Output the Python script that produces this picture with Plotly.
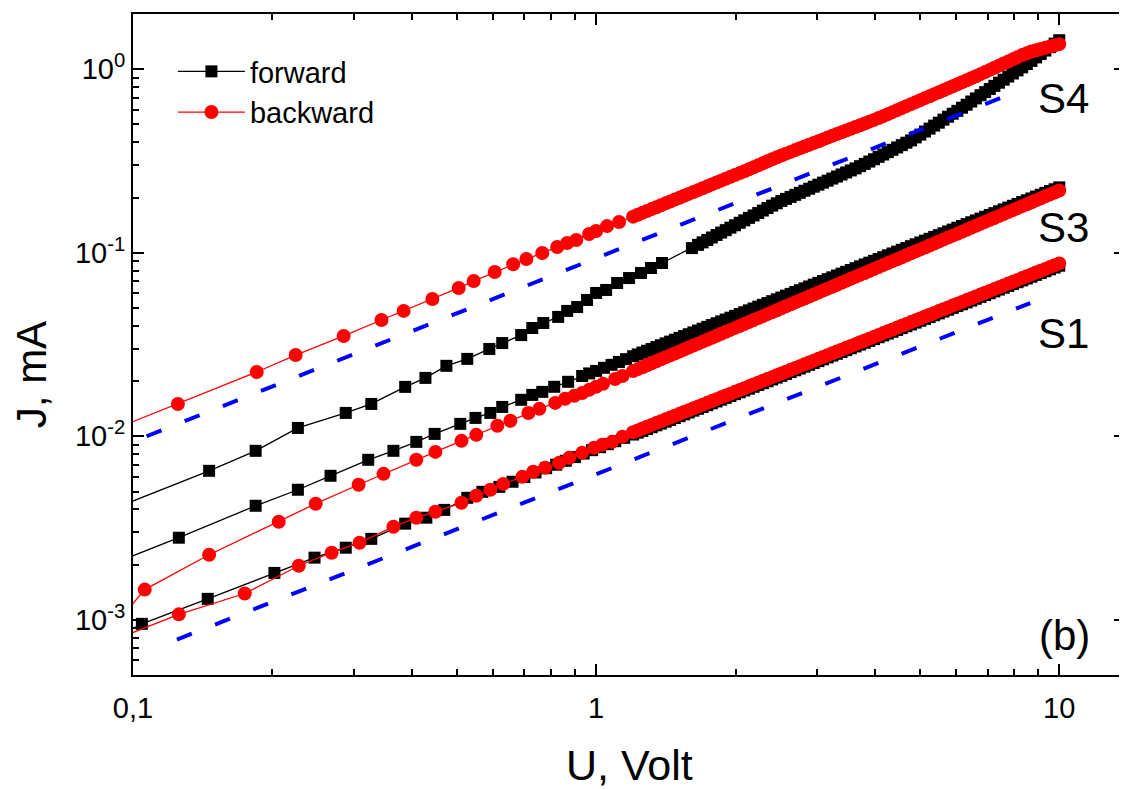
import plotly.graph_objects as go

# ---------------- data ----------------
# shared voltage grid of the dense high-voltage part (V)
U_DENSE = [1.202, 1.230, 1.259, 1.288, 1.318, 1.349, 1.380, 1.413, 1.445, 1.479,
           1.514, 1.549, 1.585, 1.622, 1.660, 1.698, 1.738, 1.778, 1.820, 1.862,
           1.905, 1.950, 1.995, 2.042, 2.089, 2.138, 2.188, 2.239, 2.291, 2.344,
           2.399, 2.455, 2.512, 2.570, 2.630, 2.692, 2.754, 2.818, 2.884, 2.951,
           3.020, 3.090, 3.162, 3.236, 3.311, 3.388, 3.467, 3.548, 3.631, 3.715,
           3.802, 3.890, 3.981, 4.074, 4.169, 4.266, 4.365, 4.467, 4.571, 4.677,
           4.786, 4.898, 5.012, 5.129, 5.248, 5.370, 5.495, 5.623, 5.754, 5.888,
           6.026, 6.166, 6.310, 6.457, 6.607, 6.761, 6.918, 7.079, 7.244, 7.413,
           7.586, 7.762, 7.943, 8.128, 8.318, 8.511, 8.710, 8.913, 9.120, 9.333,
           9.550, 9.772, 10.0]

# S4 forward
S4F_U_LOW = [0.08, 0.146, 0.184, 0.227, 0.288, 0.327, 0.387, 0.428, 0.475, 0.527,
             0.588, 0.627, 0.689, 0.728, 0.769, 0.828, 0.866, 0.910, 0.956, 1.0,
             1.051, 1.11, 1.178, 1.25, 1.314, 1.388, 1.61]
S4F_J_LOW = [3.55e-3, 6.48e-3, 8.33e-3, 0.0111, 0.0134, 0.0150, 0.01858, 0.0208, 0.0242, 0.0264,
             0.0299, 0.0322, 0.0356, 0.0389, 0.0414, 0.0447, 0.0482, 0.0506, 0.0553, 0.0604,
             0.0627, 0.0684, 0.0728, 0.0776, 0.0826, 0.0879, 0.106]
S4F_HIGH_START = 14   # the dense part of S4 forward starts at U_DENSE[14] (1.66 V)
S4F_J_HIGH = [0.1104, 0.1139, 0.1174, 0.1211, 0.1249, 0.1288, 0.1328, 0.1370, 0.1412, 0.1457,
              0.1502, 0.1549, 0.1597, 0.1647, 0.1698, 0.1752, 0.1806, 0.1860, 0.1915, 0.1965,
              0.2015, 0.2068, 0.2121, 0.2177, 0.2233, 0.2291, 0.2349, 0.2410, 0.2472, 0.2537,
              0.2602, 0.2670, 0.2738, 0.2809, 0.2881, 0.2964, 0.3048, 0.3140, 0.3233, 0.3331,
              0.3430, 0.3534, 0.3638, 0.3749, 0.3860, 0.3977, 0.4095, 0.4250, 0.4405, 0.4576,
              0.4748, 0.4930, 0.5113, 0.5312, 0.5511, 0.5723, 0.5935, 0.6171, 0.6408, 0.6671,
              0.6934, 0.7218, 0.7502, 0.7809, 0.8116, 0.8444, 0.8773, 0.9126, 0.9480, 0.9860,
              1.024, 1.067, 1.110, 1.160, 1.210, 1.264, 1.319, 1.379, 1.439]

# S4 backward
S4B_U_LOW = [0.085, 0.125, 0.185, 0.2245, 0.285, 0.344, 0.384, 0.443, 0.505, 0.544,
             0.604, 0.662, 0.707, 0.765, 0.824, 0.866, 0.906, 0.966, 1.0, 1.056, 1.121]
S4B_J_LOW = [0.0102, 0.0150, 0.0224, 0.0277, 0.0352, 0.0430, 0.0482, 0.0560, 0.0643, 0.0701,
             0.0785, 0.0866, 0.0924, 0.0996, 0.1074, 0.113, 0.1173, 0.1264, 0.1313, 0.1397, 0.147]
S4B_J_HIGH = [0.1573, 0.1611, 0.1650, 0.1689, 0.1729, 0.1771, 0.1814, 0.1858, 0.1902, 0.1948,
              0.1995, 0.2043, 0.2092, 0.2143, 0.2194, 0.2247, 0.2301, 0.2357, 0.2413, 0.2471,
              0.2530, 0.2591, 0.2653, 0.2717, 0.2782, 0.2852, 0.2923, 0.2998, 0.3073, 0.3151,
              0.3230, 0.3310, 0.3391, 0.3468, 0.3545, 0.3626, 0.3707, 0.3792, 0.3877, 0.3965,
              0.4054, 0.4147, 0.4240, 0.4336, 0.4433, 0.4533, 0.4634, 0.4739, 0.4845, 0.4955,
              0.5066, 0.5181, 0.5297, 0.5424, 0.5551, 0.5693, 0.5836, 0.5986, 0.6136, 0.6293,
              0.6451, 0.6617, 0.6783, 0.6957, 0.7131, 0.7314, 0.7497, 0.7689, 0.7882, 0.8084,
              0.8286, 0.8498, 0.8710, 0.8933, 0.9157, 0.9403, 0.9649, 0.9914, 1.018, 1.046,
              1.074, 1.103, 1.133, 1.164, 1.195, 1.222, 1.250, 1.269, 1.289, 1.309,
              1.329, 1.349, 1.370]

# S3 forward
S3F_U_LOW = [0.085, 0.1256, 0.184, 0.227, 0.267, 0.322, 0.365, 0.409, 0.448, 0.509,
             0.549, 0.591, 0.627, 0.689, 0.728, 0.765, 0.812, 0.87, 0.933, 0.966,
             1.0, 1.04, 1.08, 1.12, 1.16]
S3F_J_LOW = [1.9e-3, 2.80e-3, 4.18e-3, 5.11e-3, 6.09e-3, 7.44e-3, 8.33e-3, 9.32e-3, 0.0103, 0.01168,
             0.01259, 0.0134, 0.01445, 0.0158, 0.0168, 0.01745, 0.0186, 0.0198, 0.0213, 0.0220,
             0.0227, 0.0236, 0.0245, 0.0254, 0.0263]
S3F_J_HIGH = [0.02729, 0.02792, 0.02858, 0.02924, 0.02992, 0.03062, 0.03133, 0.03208, 0.0328, 0.03357,
              0.03437, 0.03516, 0.03598, 0.03682, 0.03768, 0.03854, 0.03945, 0.04036, 0.04131, 0.04227,
              0.04324, 0.04427, 0.04529, 0.04635, 0.04742, 0.04853, 0.04967, 0.05083, 0.05201, 0.05321,
              0.05446, 0.05573, 0.05702, 0.05834, 0.0597, 0.06111, 0.06252, 0.06397, 0.06547, 0.06699,
              0.06855, 0.07014, 0.07178, 0.07346, 0.07516, 0.07691, 0.0787, 0.08054, 0.08242, 0.08433,
              0.08631, 0.0883, 0.09037, 0.09248, 0.09464, 0.09684, 0.09909, 0.1014, 0.1038, 0.1062,
              0.1086, 0.1112, 0.1138, 0.1164, 0.1191, 0.1219, 0.1247, 0.1276, 0.1306, 0.1337,
              0.1368, 0.14, 0.1432, 0.1466, 0.15, 0.1535, 0.157, 0.1607, 0.1644, 0.1683,
              0.1722, 0.1762, 0.1803, 0.1845, 0.1888, 0.1932, 0.1977, 0.2023, 0.207, 0.2119,
              0.2168, 0.2218, 0.227]

# S3 backward
S3B_U_LOW = [0.066, 0.106, 0.146, 0.2064, 0.248, 0.307, 0.3475, 0.409, 0.4497, 0.512,
             0.551, 0.612, 0.653, 0.714, 0.754, 0.816, 0.857, 0.897, 0.933, 0.966,
             1.0, 1.035, 1.099, 1.14]
S3B_J_LOW = [3.5e-4, 1.46e-3, 2.26e-3, 3.42e-3, 4.29e-3, 5.44e-3, 6.24e-3, 7.44e-3, 8.22e-3, 9.44e-3,
             0.01018, 0.0114, 0.01214, 0.0134, 0.0141, 0.0152, 0.0160, 0.0166, 0.0172, 0.0179,
             0.0186, 0.0193, 0.0205, 0.0213]
S3B_J_HIGH = [0.02265, 0.02321, 0.02379, 0.02438, 0.02499, 0.02561, 0.02626, 0.02691, 0.02758, 0.02827,
              0.02897, 0.02969, 0.03044, 0.0312, 0.03197, 0.03277, 0.03359, 0.03443, 0.03528, 0.03616,
              0.03706, 0.03799, 0.03894, 0.03991, 0.0409, 0.04192, 0.04297, 0.04404, 0.04514, 0.04627,
              0.04742, 0.0486, 0.04982, 0.05106, 0.05233, 0.05364, 0.05498, 0.05635, 0.05775, 0.05919,
              0.06067, 0.06218, 0.06373, 0.06532, 0.06695, 0.06862, 0.07033, 0.07208, 0.07389, 0.07573,
              0.07762, 0.07955, 0.08154, 0.08357, 0.08566, 0.0878, 0.08999, 0.09223, 0.09453, 0.09689,
              0.0993, 0.1018, 0.1043, 0.1069, 0.1096, 0.1123, 0.1151, 0.118, 0.1209, 0.1239,
              0.127, 0.1302, 0.1335, 0.1368, 0.1402, 0.1437, 0.1473, 0.151, 0.1547, 0.1586,
              0.1625, 0.1666, 0.1707, 0.175, 0.1794, 0.1838, 0.1884, 0.1931, 0.1979, 0.2029,
              0.2079, 0.2131, 0.2184]

# S1 forward
S1F_U_LOW = [0.065, 0.1045, 0.145, 0.202, 0.2466, 0.288, 0.327, 0.387, 0.43, 0.47,
             0.527, 0.568, 0.618, 0.66, 0.70, 0.74, 0.78, 0.82, 0.86, 0.90,
             0.94, 0.98, 1.02, 1.06, 1.10, 1.15]
S1F_J_LOW = [5.0e-4, 9.5e-4, 1.30e-3, 1.80e-3, 2.18e-3, 2.47e-3, 2.76e-3, 3.34e-3, 3.6e-3, 3.97e-3,
             4.62e-3, 4.98e-3, 5.3e-3, 5.65e-3, 6.0e-3, 6.35e-3, 6.7e-3, 7.0e-3, 7.35e-3, 7.7e-3,
             8.05e-3, 8.4e-3, 8.72e-3, 9.05e-3, 9.4e-3, 9.8e-3]
S1F_J_HIGH = [0.01022, 0.01046, 0.0107, 0.01095, 0.0112, 0.01147, 0.01173, 0.01201, 0.01228, 0.01257,
              0.01287, 0.01317, 0.01347, 0.01379, 0.01411, 0.01443, 0.01477, 0.01511, 0.01547, 0.01583,
              0.01619, 0.01658, 0.01696, 0.01736, 0.01776, 0.01817, 0.0186, 0.01903, 0.01947, 0.01992,
              0.02039, 0.02087, 0.02135, 0.02185, 0.02236, 0.02288, 0.02341, 0.02395, 0.02451, 0.02508,
              0.02567, 0.02627, 0.02688, 0.02751, 0.02814, 0.0288, 0.02947, 0.03016, 0.03086, 0.03158,
              0.03232, 0.03307, 0.03384, 0.03463, 0.03544, 0.03626, 0.0371, 0.03797, 0.03885, 0.03975,
              0.04068, 0.04163, 0.0426, 0.0436, 0.04461, 0.04565, 0.04671, 0.0478, 0.04891, 0.05005,
              0.05122, 0.05241, 0.05364, 0.05488, 0.05616, 0.05747, 0.0588, 0.06017, 0.06157, 0.06301,
              0.06448, 0.06598, 0.06752, 0.06909, 0.0707, 0.07234, 0.07404, 0.07576, 0.07752, 0.07933,
              0.08118, 0.08306, 0.085]

# S1 backward
S1B_U_LOW = [0.085, 0.1256, 0.1743, 0.228, 0.2685, 0.3084, 0.365, 0.409, 0.4497, 0.512,
             0.551, 0.591, 0.63, 0.693, 0.7315, 0.776, 0.832, 0.875, 0.933, 0.99,
             1.03, 1.083, 1.14]
S1B_J_LOW = [7.25e-4, 1.07e-3, 1.39e-3, 1.97e-3, 2.32e-3, 2.63e-3, 3.21e-3, 3.6e-3, 3.88e-3, 4.34e-3,
             4.74e-3, 5.11e-3, 5.5e-3, 6.01e-3, 6.4e-3, 6.73e-3, 7.17e-3, 7.63e-3, 8.12e-3, 8.65e-3,
             8.98e-3, 9.32e-3, 9.95e-3]
S1B_J_HIGH = [0.01052, 0.01076, 0.01102, 0.01127, 0.01153, 0.0118, 0.01208, 0.01236, 0.01264, 0.01294,
              0.01325, 0.01355, 0.01387, 0.01419, 0.01453, 0.01486, 0.01521, 0.01556, 0.01593, 0.01629,
              0.01667, 0.01706, 0.01746, 0.01787, 0.01828, 0.01871, 0.01915, 0.01959, 0.02005, 0.02051,
              0.02099, 0.02148, 0.02198, 0.02249, 0.02301, 0.02356, 0.0241, 0.02466, 0.02524, 0.02582,
              0.02643, 0.02704, 0.02767, 0.02832, 0.02897, 0.02965, 0.03034, 0.03105, 0.03177, 0.03251,
              0.03327, 0.03404, 0.03483, 0.03565, 0.03648, 0.03733, 0.03819, 0.03909, 0.04, 0.04092,
              0.04188, 0.04286, 0.04386, 0.04488, 0.04592, 0.04699, 0.04808, 0.0492, 0.05035, 0.05152,
              0.05273, 0.05395, 0.05521, 0.0565, 0.05781, 0.05916, 0.06053, 0.06194, 0.06339, 0.06486,
              0.06638, 0.06792, 0.0695, 0.07112, 0.07278, 0.07447, 0.07621, 0.07799, 0.0798, 0.08166,
              0.08356, 0.08551, 0.0875]

# ohmic guide lines (dashed)
FIT_S4_U = [0.107, 7.5]
FIT_S4_J = [0.0100, 0.70]
FIT_S1_U = [0.1244, 8.66]
FIT_S1_J = [7.8e-4, 0.0532]

# tick labels
X_TICKVALS = [0.1, 1, 10]
X_TICKTEXT = ["0,1", "1", "10"]
Y_TICKVALS = [0.001, 0.01, 0.1, 1]
Y_TICKTEXT = ["10<sup>-3</sup>", "10<sup>-2</sup>", "10<sup>-1</sup>", "10<sup>0</sup>"]

SAMPLE_LABELS = ["S4", "S3", "S1"]

# ---------------- figure ----------------
FONT = "Liberation Sans, Arial, Helvetica, sans-serif"
BLACK, RED, BLUE = "#000000", "#ff0000", "#0000ff"

fig = go.Figure()

forward = [
    (S4F_U_LOW + U_DENSE[S4F_HIGH_START:], S4F_J_LOW + S4F_J_HIGH),
    (S3F_U_LOW + U_DENSE, S3F_J_LOW + S3F_J_HIGH),
    (S1F_U_LOW + U_DENSE, S1F_J_LOW + S1F_J_HIGH),
]
backward = [
    (S4B_U_LOW + U_DENSE, S4B_J_LOW + S4B_J_HIGH),
    (S3B_U_LOW + U_DENSE, S3B_J_LOW + S3B_J_HIGH),
    (S1B_U_LOW + U_DENSE, S1B_J_LOW + S1B_J_HIGH),
]

for i, (u, j) in enumerate(forward):
    fig.add_trace(go.Scatter(
        x=u, y=j, mode="lines+markers", name="forward",
        legendgroup="forward", showlegend=(i == 0),
        line=dict(color=BLACK, width=1.3),
        marker=dict(symbol="square", size=12, color=BLACK, line=dict(width=0)),
    ))

for i, (u, j) in enumerate(backward):
    fig.add_trace(go.Scatter(
        x=u, y=j, mode="lines+markers", name="backward",
        legendgroup="backward", showlegend=(i == 0),
        line=dict(color=RED, width=1.3),
        marker=dict(symbol="circle", size=14, color=RED, line=dict(width=0)),
    ))

for u, j in [(FIT_S4_U, FIT_S4_J), (FIT_S1_U, FIT_S1_J)]:
    fig.add_trace(go.Scatter(
        x=u, y=j, mode="lines", showlegend=False, hoverinfo="skip",
        line=dict(color=BLUE, width=4, dash="16px,25px"),
    ))

minor_x = [m * 10.0 ** e for e in (-1, 0) for m in range(2, 10)]
minor_y = [m * 10.0 ** e for e in (-4, -3, -2, -1, 0) for m in range(2, 10)]

axis_common = dict(
    type="log", showline=True, linewidth=2, linecolor=BLACK, mirror="allticks",
    ticks="inside", ticklen=11, tickwidth=2, tickcolor=BLACK,
    showgrid=False, zeroline=False,
    tickfont=dict(family=FONT, size=29, color=BLACK),
)

fig.update_xaxes(
    **axis_common,
    range=[-1, 1.142],
    tickmode="array", tickvals=X_TICKVALS, ticktext=X_TICKTEXT,
    ticklabelstandoff=6,
    minor=dict(tickmode="array", tickvals=minor_x, ticks="inside",
               ticklen=6, tickwidth=2, tickcolor=BLACK, showgrid=False),
)
fig.update_yaxes(
    **axis_common,
    range=[-3.301, 0.301],
    tickmode="array", tickvals=Y_TICKVALS, ticktext=Y_TICKTEXT,
    minor=dict(tickmode="array", tickvals=minor_y, ticks="inside",
               ticklen=6, tickwidth=2, tickcolor=BLACK, showgrid=False),
)

# The page body adds an 8 px offset, so the figure is 8 px smaller and the
# plot area is placed so that on screen it spans x 133..1127 and y 14..675.
OFF = 8
FIG_W, FIG_H = 1127 - OFF, 789 - OFF
L, T, W, H = 133, 14, 994, 661   # plot area in screen pixels


def px(xp, yp):
    return (xp - L) / W, (T + H - yp) / H


annotations = []
for label, yp in zip(SAMPLE_LABELS, [98, 227, 333]):
    x, y = px(1065, yp)
    annotations.append(dict(text=label, x=x, y=y, xref="paper", yref="paper",
                            showarrow=False, xanchor="center", yanchor="middle",
                            font=dict(family=FONT, size=42, color=BLACK)))
x, y = px(1066, 635)
annotations.append(dict(text="(b)", x=x, y=y, xref="paper", yref="paper",
                        showarrow=False, xanchor="center", yanchor="middle",
                        font=dict(family=FONT, size=42, color=BLACK)))
x, y = px(630, 765)
annotations.append(dict(text="U, Volt", x=x, y=y, xref="paper", yref="paper",
                        showarrow=False, xanchor="center", yanchor="middle",
                        font=dict(family=FONT, size=43, color=BLACK)))
x, y = px(31, 375)
annotations.append(dict(text="J, mA", x=x, y=y, xref="paper", yref="paper",
                        showarrow=False, xanchor="center", yanchor="middle",
                        textangle=-90, borderpad=0,
                        font=dict(family=FONT, size=42, color=BLACK)))

lx, ly = px(173, 46)
fig.update_layout(
    width=FIG_W, height=FIG_H,
    margin=dict(l=L - OFF, r=0, t=T - OFF, b=FIG_H - (T - OFF) - H, pad=0),
    paper_bgcolor="white", plot_bgcolor="white",
    font=dict(family=FONT, color=BLACK),
    showlegend=True,
    legend=dict(x=lx, y=ly, xanchor="left", yanchor="top",
                bgcolor="rgba(0,0,0,0)", borderwidth=0,
                itemwidth=67, tracegroupgap=0,
                font=dict(family=FONT, size=29, color=BLACK)),
    annotations=annotations,
)

fig.write_html("out.html")
